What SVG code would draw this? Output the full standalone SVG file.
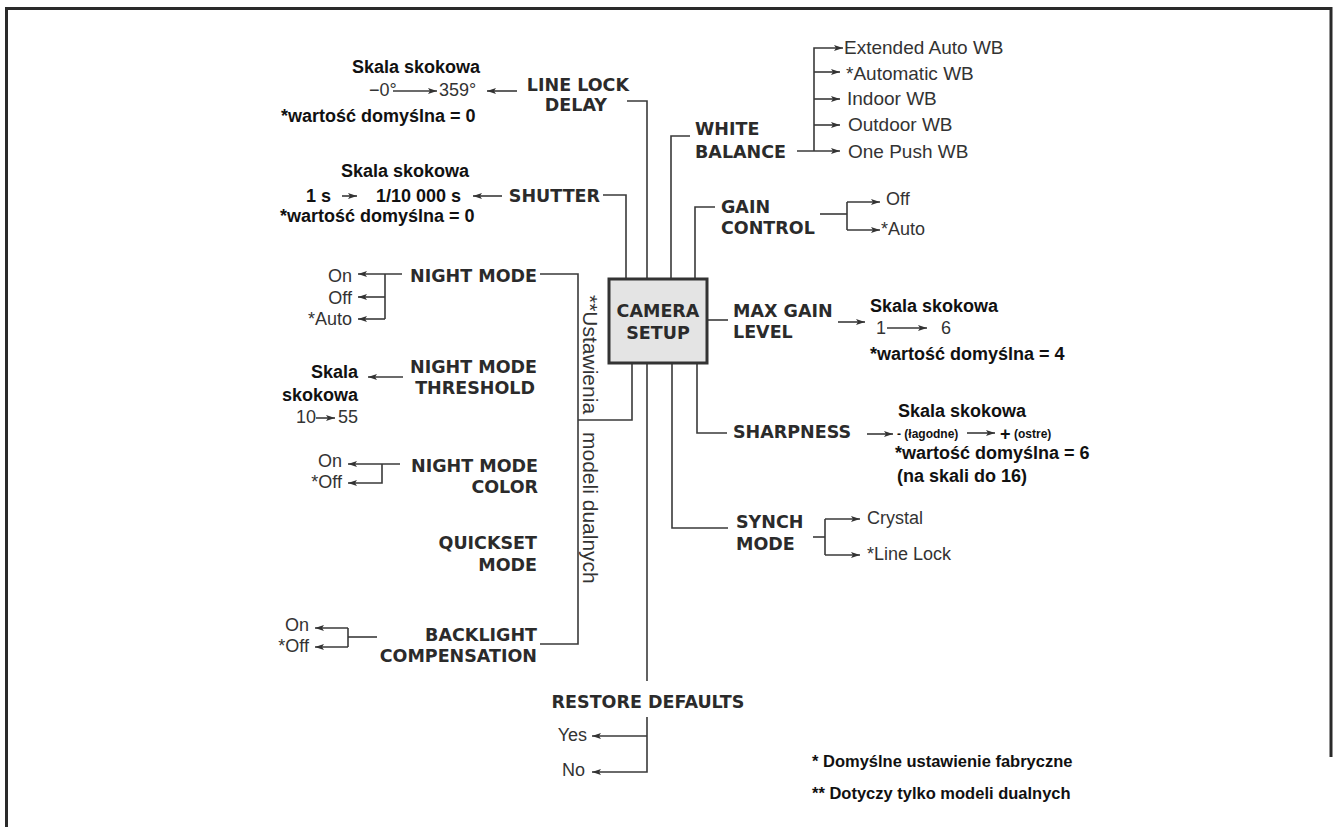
<svg xmlns="http://www.w3.org/2000/svg" width="1338" height="827" viewBox="0 0 1338 827">
<defs>
<style>
.lbl{font-family:"DejaVu Sans","Liberation Sans",sans-serif;font-weight:bold;font-size:17.5px;fill:#2b2b2b}
.opt{font-family:"Liberation Sans",Arial,sans-serif;font-size:18px;fill:#333}
.wb{font-size:19px}
.ann{font-family:"Liberation Sans",Arial,sans-serif;font-weight:bold;font-size:18px;fill:#111}
.sm{font-family:"Liberation Sans",Arial,sans-serif;font-weight:bold;font-size:12px;fill:#111}
.note{font-family:"Liberation Sans",Arial,sans-serif;font-weight:bold;font-size:16.5px;fill:#111}
.rot{font-family:"Liberation Sans",Arial,sans-serif;font-size:21px;fill:#333}
.ln{fill:none;stroke:#3a3a3a;stroke-width:1.6}
.ar{fill:none;stroke:#3a3a3a;stroke-width:1.6;marker-end:url(#ah)}
.box{fill:#e4e4e4;stroke:#333;stroke-width:3}
.end{text-anchor:end}
.mid{text-anchor:middle}
</style>
<marker id="ah" markerUnits="userSpaceOnUse" markerWidth="10" markerHeight="7" refX="9" refY="3.5" orient="auto">
<path d="M0,0.5 L9,3.5 L0,6.5 L2,3.5 z" fill="#333"/>
</marker>
</defs>
<rect width="1338" height="827" fill="#fff"/>
<path d="M6.5,827 V8.5 H1331 V757" fill="none" stroke="#2a2a2a" stroke-width="3"/>

<g id="connectors">
<path class="ln" d="M627,101 H647 V279"/>
<path class="ln" d="M603,195 H626 V279"/>
<path class="ln" d="M690,136 H671 V279"/>
<path class="ln" d="M715,207 H695 V279"/>
<path class="ln" d="M707,320 H728"/>
<path class="ln" d="M697,363 V433 H727"/>
<path class="ln" d="M672,363 V528 H728"/>
<path class="ln" d="M647,363 V681"/>
<path class="ln" d="M632,363 V420 H578"/>
<path class="ln" d="M540,274 H578 V644 H540"/>
<path class="ar" d="M517,91 H487"/>
<path class="ar" d="M393,91 H437"/>
<path class="ar" d="M502,196 H473"/>
<path class="ar" d="M342,196 H357"/>
<path class="ar" d="M402,274 H358"/>
<path class="ln" d="M385,274 V319"/>
<path class="ar" d="M385,297 H358"/>
<path class="ar" d="M385,319 H358"/>
<path class="ar" d="M403,377 H368"/>
<path class="ar" d="M316,418 H335"/>
<path class="ar" d="M400,464 H348"/>
<path class="ar" d="M382,464 V483 H348"/>
<path class="ln" d="M377,637 H348"/>
<path class="ln" d="M348,628 V647"/>
<path class="ar" d="M348,628 H315"/>
<path class="ar" d="M348,647 H315"/>
<path class="ar" d="M647,717 V772 H592"/>
<path class="ar" d="M647,736 H592"/>
<path class="ar" d="M797,151 H840"/>
<path class="ar" d="M814,151 V48 H843"/>
<path class="ar" d="M814,72 H840"/>
<path class="ar" d="M814,99 H840"/>
<path class="ar" d="M814,125 H840"/>
<path class="ln" d="M820,214 H847"/>
<path class="ln" d="M847,202 V230"/>
<path class="ar" d="M847,202 H880"/>
<path class="ar" d="M847,230 H880"/>
<path class="ar" d="M838,322 H865"/>
<path class="ar" d="M887,328 H927"/>
<path class="ar" d="M867,434 H893"/>
<path class="ar" d="M967,433 H995"/>
<path class="ln" d="M813,537 H825"/>
<path class="ln" d="M825,519 V555"/>
<path class="ar" d="M825,519 H860"/>
<path class="ar" d="M825,555 H860"/>
</g>

<g id="node-camera-setup">
<rect class="box" x="609" y="279" width="98" height="84"/>
<text class="lbl mid" x="658" y="317">CAMERA</text>
<text class="lbl mid" x="658" y="339">SETUP</text>
</g>

<g id="node-line-lock-delay">
<text class="lbl end" x="629" y="91">LINE LOCK</text>
<text class="lbl end" x="607" y="111">DELAY</text>
<text class="ann mid" x="416" y="73">Skala skokowa</text>
<text class="opt" x="369" y="96">−0°</text>
<text class="opt" x="439" y="96">359°</text>
<text class="ann" x="281" y="122">*wartość domyślna = 0</text>
</g>

<g id="node-shutter">
<text class="lbl end" x="600" y="202">SHUTTER</text>
<text class="ann mid" x="405" y="177">Skala skokowa</text>
<text class="ann" x="306" y="202">1 s</text>
<text class="ann" x="376" y="202">1/10 000 s</text>
<text class="ann" x="280" y="222">*wartość domyślna = 0</text>
</g>

<g id="node-night-mode">
<text class="lbl end" x="537" y="282">NIGHT MODE</text>
<text class="opt end" x="352" y="282">On</text>
<text class="opt end" x="352" y="304">Off</text>
<text class="opt end" x="352" y="325">*Auto</text>
</g>

<g id="node-night-mode-threshold">
<text class="lbl end" x="537" y="373">NIGHT MODE</text>
<text class="lbl end" x="535" y="394">THRESHOLD</text>
<text class="ann end" x="358" y="378">Skala</text>
<text class="ann end" x="358" y="401">skokowa</text>
<text class="opt" x="296" y="423">10</text>
<text class="opt end" x="358" y="423">55</text>
</g>

<g id="node-night-mode-color">
<text class="lbl end" x="538" y="472">NIGHT MODE</text>
<text class="lbl end" x="538" y="493">COLOR</text>
<text class="opt end" x="342" y="467">On</text>
<text class="opt end" x="342" y="488">*Off</text>
</g>

<g id="node-quickset-mode">
<text class="lbl end" x="537" y="549">QUICKSET</text>
<text class="lbl end" x="537" y="571">MODE</text>
</g>

<g id="node-backlight-compensation">
<text class="lbl end" x="537" y="641">BACKLIGHT</text>
<text class="lbl end" x="537" y="662">COMPENSATION</text>
<text class="opt end" x="309" y="631">On</text>
<text class="opt end" x="309" y="652">*Off</text>
</g>

<g id="note-dual">
<text class="rot" transform="translate(583,295) rotate(90)">**Ustawienia</text>
<text class="rot" transform="translate(583,432) rotate(90)">modeli dualnych</text>
</g>

<g id="node-restore-defaults">
<text class="lbl mid" x="648" y="708">RESTORE DEFAULTS</text>
<text class="opt end" x="587" y="741">Yes</text>
<text class="opt end" x="585" y="776">No</text>
</g>

<g id="node-white-balance">
<text class="lbl" x="695" y="135">WHITE</text>
<text class="lbl" x="695" y="158">BALANCE</text>
<text class="opt wb" x="844" y="54">Extended Auto WB</text>
<text class="opt wb" x="846" y="80">*Automatic WB</text>
<text class="opt wb" x="847" y="105">Indoor WB</text>
<text class="opt wb" x="848" y="131">Outdoor WB</text>
<text class="opt wb" x="848" y="158">One Push WB</text>
</g>

<g id="node-gain-control">
<text class="lbl" x="721" y="213">GAIN</text>
<text class="lbl" x="721" y="234">CONTROL</text>
<text class="opt" x="886" y="205">Off</text>
<text class="opt" x="881" y="235">*Auto</text>
</g>

<g id="node-max-gain-level">
<text class="lbl" x="733" y="317">MAX GAIN</text>
<text class="lbl" x="733" y="338">LEVEL</text>
<text class="ann" x="870" y="312">Skala skokowa</text>
<text class="opt" x="876" y="334">1</text>
<text class="opt" x="941" y="334">6</text>
<text class="ann" x="870" y="360">*wartość domyślna = 4</text>
</g>

<g id="node-sharpness">
<text class="lbl" x="733" y="438">SHARPNESS</text>
<text class="ann" x="898" y="417">Skala skokowa</text>
<text class="sm" x="897" y="438">- (łagodne)</text>
<text class="ann" x="1000" y="440">+</text>
<text class="sm" x="1014" y="438">(ostre)</text>
<text class="ann" x="895" y="459">*wartość domyślna = 6</text>
<text class="ann" x="897" y="482">(na skali do 16)</text>
</g>

<g id="node-synch-mode">
<text class="lbl" x="736" y="528">SYNCH</text>
<text class="lbl" x="736" y="550">MODE</text>
<text class="opt" x="867" y="524">Crystal</text>
<text class="opt" x="867" y="560">*Line Lock</text>
</g>

<g id="notes">
<text class="note" x="812" y="767">* Domyślne ustawienie fabryczne</text>
<text class="note" x="812" y="799">** Dotyczy tylko modeli dualnych</text>
</g>
</svg>
